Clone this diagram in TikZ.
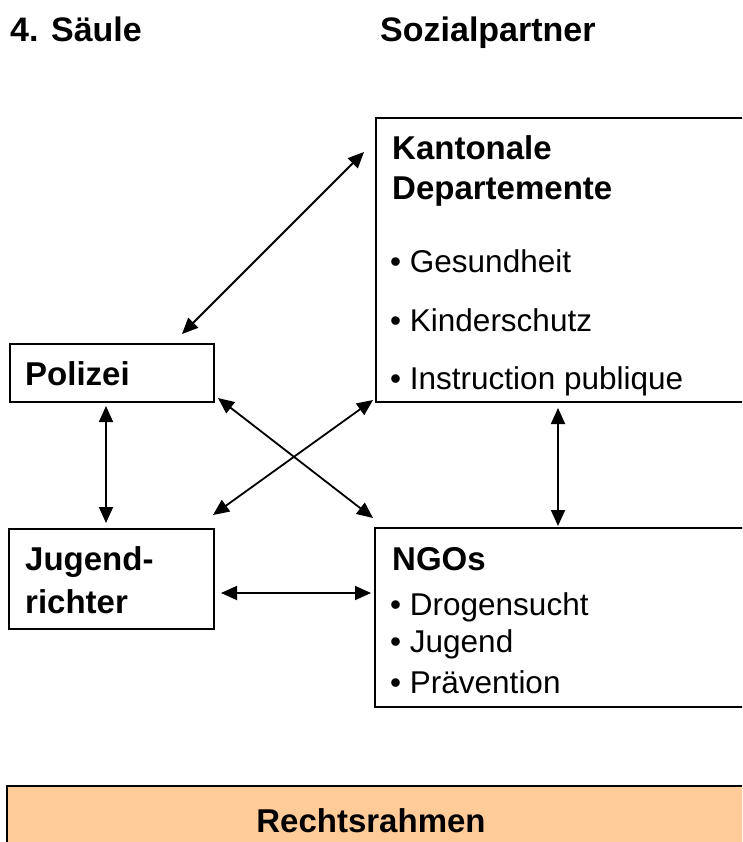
\documentclass[tikz,border=0pt]{standalone}
\usepackage{fontspec}
\setmainfont{Liberation Sans}
\usetikzlibrary{arrows.meta,calc}
\definecolor{rahmen}{HTML}{FFCC99}
\begin{document}
\begin{tikzpicture}[x=1pt,y=-1pt,
  box/.style={draw=black,line width=2pt,rectangle,inner sep=0pt,outer sep=0pt,anchor=north west},
  title/.style={font=\fontsize{34}{40}\selectfont\bfseries,anchor=base west,inner sep=0pt},
  head/.style={font=\fontsize{33}{40}\selectfont\bfseries,anchor=base west,inner sep=0pt},
  item/.style={font=\fontsize{31.5}{37}\selectfont,anchor=base west,inner sep=0pt},
  link/.style={line width=1.8pt,{Triangle[length=16pt,width=14pt]}-{Triangle[length=16pt,width=14pt]}}]
\useasboundingbox (0,0) rectangle (742,842);
\clip (0,0) rectangle (742,842);
% titles
\node[title] (t1) at (10,42) {4. Säule};
\node[title] (t2) at (380,42) {Sozialpartner};
% boxes
\node[box,minimum width=204pt,minimum height=58pt] (pol) at (10,344) {};
\node[box,minimum width=205pt,minimum height=100pt] (jug) at (9,529) {};
\node[box,minimum width=400pt,minimum height=284pt] (kant) at (376,118) {};
\node[box,minimum width=400pt,minimum height=179pt] (ngo) at (375,528) {};
\node[box,fill=rahmen,minimum width=800pt,minimum height=100pt] (recht) at (7,786) {};
% texts
\node[head] (polT) at (25,385) {Polizei};
\node[head] (jugT1) at (25,570) {Jugend-};
\node[head] (jugT2) at (25,613) {richter};
\node[head] (kantT1) at (392,160) {Kantonale};
\node[head] (kantT2) at (392,200) {Departemente};
\node[item] (k1) at (390,272) {• Gesundheit};
\node[item] (k2) at (390,331) {• Kinderschutz};
\node[item] (k3) at (390,389) {• Instruction publique};
\node[head] (ngoT) at (392,570) {NGOs};
\node[item] (n1) at (390,615) {• Drogensucht};
\node[item] (n2) at (390,652) {• Jugend};
\node[item] (n3) at (390,693) {• Prävention};
\node[head,anchor=base] (rechtT) at (371,832) {Rechtsrahmen};
% connectors
\draw[link] ($(pol.north)+(70,-10)$) -- ($(kant.north west)+(-12,34)$);
\draw[link] ($(pol.south)+(-6,4)$) -- ($(jug.north)+(-5.5,-6)$);
\draw[link] ($(pol.south east)+(4,-4)$) -- ($(ngo.north west)+(-2,-10)$);
\draw[link] ($(jug.north east)+(-1,-14)$) -- ($(kant.south west)+(-3,-2)$);
\draw[link] ($(jug.north east)+(7,64)$) -- ($(ngo.north west)+(-4,65)$);
\draw[link] ($(kant.south west)+(182,6)$) -- ($(ngo.north west)+(183,-2)$);
\end{tikzpicture}
\end{document}
